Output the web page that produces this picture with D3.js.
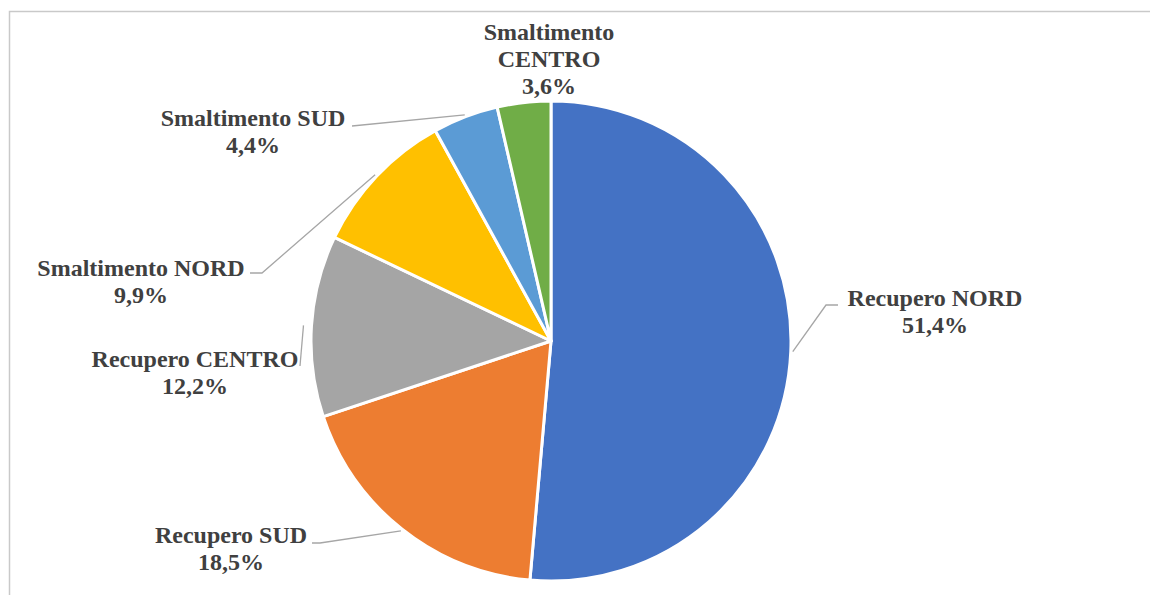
<!DOCTYPE html>
<html>
<head>
<meta charset="utf-8">
<script src="https://cdn.jsdelivr.net/npm/d3@7"></script>
<style>
  html, body { margin: 0; padding: 0; background: #ffffff; }
  svg { display: block; }
</style>
</head>
<body>
<svg id="chart" width="1150" height="595"></svg>
<script>
// ---- Data ----
const categories = ["Recupero NORD", "Recupero SUD", "Recupero CENTRO", "Smaltimento NORD", "Smaltimento SUD", "Smaltimento CENTRO"];
const values = [51.4, 18.5, 12.2, 9.9, 4.4, 3.6];
const colors = ["#4472C4", "#ED7D31", "#A5A5A5", "#FFC000", "#5B9BD5", "#70AD47"];
const labelLines = [
  ["Recupero NORD"],
  ["Recupero SUD"],
  ["Recupero CENTRO"],
  ["Smaltimento NORD"],
  ["Smaltimento SUD"],
  ["Smaltimento", "CENTRO"]
];

// ---- Layout ----
const W = 1150, H = 595;
const cx = 551, cy = 341, R = 240;
const lineH = 27;
// label anchor (center x, first baseline), leader elbow points (null = no leader)
const labelLayout = [
  { x: 935, y: 306, leader: [[826, 305], [838, 305]], lr: 2 },
  { x: 231, y: 543, leader: [[320, 543], [312, 543]], lr: 2 },
  { x: 195, y: 367, leader: [[300, 366]], lr: 8 },
  { x: 141, y: 276, leader: [[262, 273], [250, 273]], lr: 2 },
  { x: 253, y: 126, leader: [[352, 126]], lr: 2 },
  { x: 549, y: 40, leader: null, lr: 0 }
];

const svg = d3.select("#chart");

// chart border (cropped on right/bottom)
svg.append("path")
  .attr("d", `M9.5,${H + 5} L9.5,11.5 L${W + 5},11.5`)
  .attr("fill", "none")
  .attr("stroke", "#C9C9C9")
  .attr("stroke-width", 1.5);

const data = categories.map((c, i) => ({ name: c, value: values[i], color: colors[i], lines: labelLines[i], layout: labelLayout[i] }));

const pie = d3.pie().sort(null).value(d => d.value).startAngle(0).endAngle(2 * Math.PI);
const arcs = pie(data);
const arc = d3.arc().innerRadius(0).outerRadius(R);

const g = svg.append("g").attr("transform", `translate(${cx},${cy})`);
g.selectAll("path.slice")
  .data(arcs)
  .join("path")
  .attr("class", "slice")
  .attr("d", arc)
  .attr("fill", d => d.data.color)
  .attr("stroke", "#ffffff")
  .attr("stroke-width", 3)
  .attr("stroke-linejoin", "round");

// leader lines
arcs.forEach(a => {
  const L = a.data.layout;
  if (!L.leader) return;
  const mid = (a.startAngle + a.endAngle) / 2;
  const rr = R + L.lr;
  const p0 = [cx + rr * Math.sin(mid), cy - rr * Math.cos(mid)];
  const pts = [p0].concat(L.leader);
  svg.append("path")
    .attr("d", d3.line()(pts))
    .attr("fill", "none")
    .attr("stroke", "#A6A6A6")
    .attr("stroke-width", 1.3);
});

// labels
const fmt = v => v.toFixed(1).replace(".", ",") + "%";
arcs.forEach(a => {
  const L = a.data.layout;
  const lines = a.data.lines.concat([fmt(a.data.value)]);
  const t = svg.append("text")
    .attr("x", L.x)
    .attr("y", L.y)
    .attr("text-anchor", "middle")
    .attr("font-family", "'Liberation Serif', 'Times New Roman', serif")
    .attr("font-weight", "bold")
    .attr("font-size", 24)
    .attr("fill", "#404040");
  lines.forEach((ln, i) => {
    t.append("tspan").attr("x", L.x).attr("y", L.y + i * lineH).text(ln);
  });
});
</script>
</body>
</html>
